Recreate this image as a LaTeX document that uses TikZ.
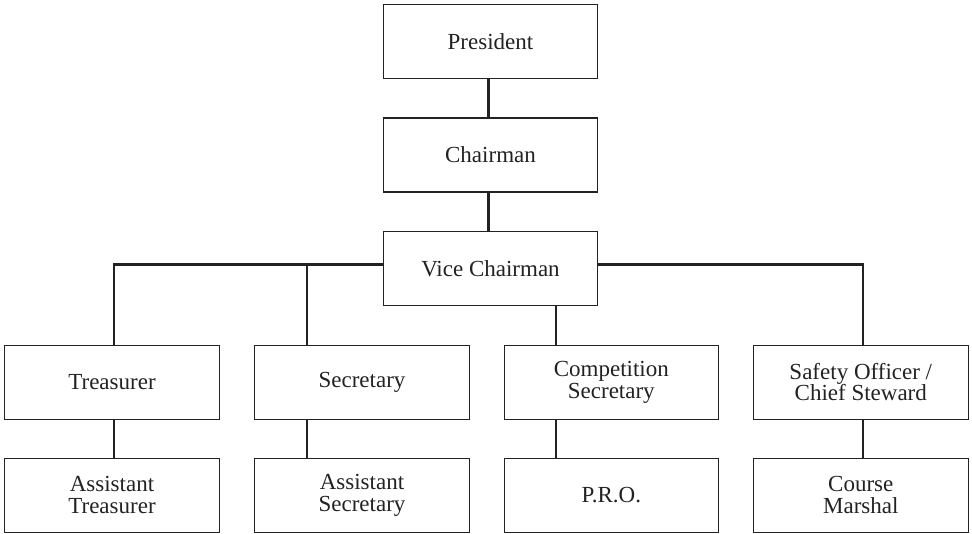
\documentclass[tikz,border=0pt]{standalone}
\usepackage{fontspec}
\setmainfont{Liberation Serif}
\definecolor{ink}{HTML}{222222}
\begin{document}
\begin{tikzpicture}[x=1pt,y=-1pt,
  box/.style={draw=ink, line width=1.1pt, minimum width=214.5pt, minimum height=74pt,
    inner sep=0pt, align=center, font=\fontsize{23}{21.5}\selectfont, text=ink},
  link/.style={draw=ink, line width=2.2pt}]
\useasboundingbox (0,0) rectangle (972,533);
\node[box] (pres)  at (490.5,41.3)  {President};
\node[box] (chair) at (490.5,155)   {Chairman};
\node[box] (vc)    at (490.5,268.2) {Vice Chairman};
\node[box] (tre)   at (112,382.2)   {Treasurer};
\node[box] (sec)   at (362,382.2)   {Secretary};
\node[box] (comp)  at (611.3,382.2) {Competition\\Secretary};
\node[box] (saf)   at (860.8,382.2) {Safety Officer /\\Chief Steward};
\node[box] (atre)  at (112,495.2)   {Assistant\\Treasurer};
\node[box] (asec)  at (362,495.2)   {Assistant\\Secretary};
\node[box] (pro)   at (611.3,495.2) {P.R.O.};
\node[box] (cm)    at (860.8,495.2) {Course\\Marshal};
\draw[link] ([xshift=-2pt]pres.south) -- ([xshift=-2pt]chair.north);
\draw[link] ([xshift=-2pt]chair.south) -- ([xshift=-2pt]vc.north);
\draw[link] ([yshift=3.7pt]vc.west) -| ([xshift=2.3pt]tre.north);
\draw[link] ([xshift=-55pt]sec.north) |- ([yshift=3.7pt]vc.west);
\draw[link] ([xshift=-55pt]comp.north) -- ([xshift=-55pt]comp.north |- vc.south);
\draw[link] ([yshift=3.7pt]vc.east) -| ([xshift=1.9pt]saf.north);
\draw[link] ([xshift=2.3pt]tre.south) -- ([xshift=2.3pt]atre.north);
\draw[link] ([xshift=-55pt]sec.south) -- ([xshift=-55pt]asec.north);
\draw[link] ([xshift=-55pt]comp.south) -- ([xshift=-55pt]pro.north);
\draw[link] ([xshift=1.9pt]saf.south) -- ([xshift=1.9pt]cm.north);
\end{tikzpicture}
\end{document}
